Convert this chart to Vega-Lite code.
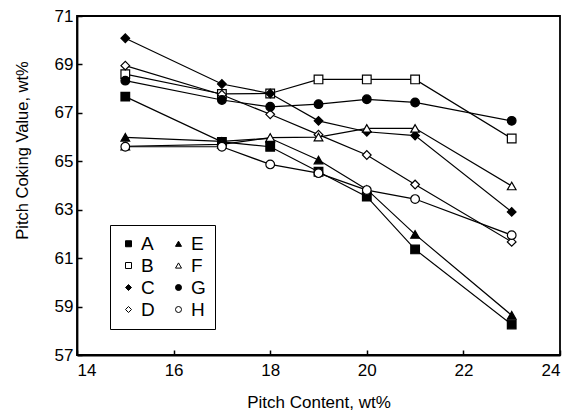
{
  "$schema": "https://vega.github.io/schema/vega-lite/v6.json",
  "width": 483,
  "height": 339,
  "autosize": {"type": "none"},
  "padding": {"left": 77, "top": 16, "right": 19, "bottom": 60},
  "background": "white",
  "config": {
    "font": "Liberation Sans",
    "view": {"stroke": "black", "strokeWidth": 1.8},
    "axis": {
      "grid": false,
      "domainColor": "black",
      "domainWidth": 1.8,
      "tickColor": "black",
      "tickWidth": 1.5,
      "tickSize": -5,
      "labelFont": "Liberation Sans",
      "labelFontSize": 17,
      "labelColor": "black",
      "titleFont": "Liberation Sans",
      "titleFontSize": 16.5,
      "titleFontWeight": "normal",
      "titleColor": "black"
    }
  },
  "data": {
    "values": [
      {"s": "A", "x": 15, "y": 67.67}, {"s": "A", "x": 17, "y": 65.8}, {"s": "A", "x": 18, "y": 65.6}, {"s": "A", "x": 19, "y": 64.57}, {"s": "A", "x": 20, "y": 63.54}, {"s": "A", "x": 21, "y": 61.36}, {"s": "A", "x": 23, "y": 58.26},
      {"s": "B", "x": 15, "y": 68.6}, {"s": "B", "x": 17, "y": 67.78}, {"s": "B", "x": 18, "y": 67.8}, {"s": "B", "x": 19, "y": 68.38}, {"s": "B", "x": 20, "y": 68.38}, {"s": "B", "x": 21, "y": 68.38}, {"s": "B", "x": 23, "y": 65.94},
      {"s": "C", "x": 15, "y": 70.08}, {"s": "C", "x": 17, "y": 68.19}, {"s": "C", "x": 18, "y": 67.8}, {"s": "C", "x": 19, "y": 66.67}, {"s": "C", "x": 20, "y": 66.22}, {"s": "C", "x": 21, "y": 66.06}, {"s": "C", "x": 23, "y": 62.91},
      {"s": "D", "x": 15, "y": 68.95}, {"s": "D", "x": 17, "y": 67.75}, {"s": "D", "x": 18, "y": 66.94}, {"s": "D", "x": 19, "y": 66.1}, {"s": "D", "x": 20, "y": 65.26}, {"s": "D", "x": 21, "y": 64.04}, {"s": "D", "x": 23, "y": 61.67},
      {"s": "E", "x": 15, "y": 65.99}, {"s": "E", "x": 17, "y": 65.82}, {"s": "E", "x": 18, "y": 65.95}, {"s": "E", "x": 19, "y": 65.05}, {"s": "E", "x": 20, "y": 63.84}, {"s": "E", "x": 21, "y": 61.98}, {"s": "E", "x": 23, "y": 58.64},
      {"s": "F", "x": 15, "y": 65.62}, {"s": "F", "x": 17, "y": 65.7}, {"s": "F", "x": 18, "y": 65.98}, {"s": "F", "x": 19, "y": 66.0}, {"s": "F", "x": 20, "y": 66.36}, {"s": "F", "x": 21, "y": 66.36}, {"s": "F", "x": 23, "y": 63.98},
      {"s": "G", "x": 15, "y": 68.33}, {"s": "G", "x": 17, "y": 67.53}, {"s": "G", "x": 18, "y": 67.25}, {"s": "G", "x": 19, "y": 67.36}, {"s": "G", "x": 20, "y": 67.56}, {"s": "G", "x": 21, "y": 67.43}, {"s": "G", "x": 23, "y": 66.67},
      {"s": "H", "x": 15, "y": 65.6}, {"s": "H", "x": 17, "y": 65.6}, {"s": "H", "x": 18, "y": 64.87}, {"s": "H", "x": 19, "y": 64.51}, {"s": "H", "x": 20, "y": 63.81}, {"s": "H", "x": 21, "y": 63.44}, {"s": "H", "x": 23, "y": 61.95}
    ]
  },
  "encoding": {
    "x": {
      "field": "x", "type": "quantitative",
      "scale": {"domain": [14, 24], "nice": false, "zero": false},
      "axis": {"values": [14, 16, 18, 20, 22, 24], "title": "Pitch Content, wt%", "labelPadding": 12, "titleY": 52, "titleBaseline": "alphabetic", "titleFontSize": 17}
    },
    "y": {
      "field": "y", "type": "quantitative",
      "scale": {"domain": [57, 71], "nice": false, "zero": false},
      "axis": {"values": [57, 59, 61, 63, 65, 67, 69, 71], "title": "Pitch Coking Value, wt%", "labelPadding": 9, "titleX": -50, "titleY": 134, "titleBaseline": "alphabetic", "titleAlign": "center"}
    }
  },
  "layer": [
    {
      "mark": {"type": "line", "color": "black", "strokeWidth": 1.2},
      "encoding": {"detail": {"field": "s"}}
    },
    {
      "mark": {"type": "point", "filled": true, "size": 75, "stroke": "black", "strokeWidth": 1.2, "opacity": 1},
      "encoding": {
        "shape": {
          "field": "s", "type": "nominal",
          "scale": {"domain": ["A", "B", "C", "D", "E", "F", "G", "H"], "range": ["square", "square", "diamond", "diamond", "triangle-up", "triangle-up", "circle", "circle"]},
          "legend": {"title": null}
        },
        "fill": {
          "field": "s", "type": "nominal",
          "scale": {"domain": ["A", "B", "C", "D", "E", "F", "G", "H"], "range": ["black", "white", "black", "white", "black", "white", "black", "white"]},
          "legend": {
            "title": null,
            "orient": "none",
            "legendX": 33,
            "legendY": 209,
            "columns": 2,
            "columnPadding": 14,
            "rowPadding": 2,
            "padding": 9,
            "strokeColor": "black",
            "symbolSize": 36,
            "symbolStrokeColor": "black",
            "symbolStrokeWidth": 1,
            "labelFontSize": 19,
            "labelColor": "black",
            "labelFont": "Liberation Sans",
            "labelOffset": 3
          }
        }
      }
    }
  ]
}
